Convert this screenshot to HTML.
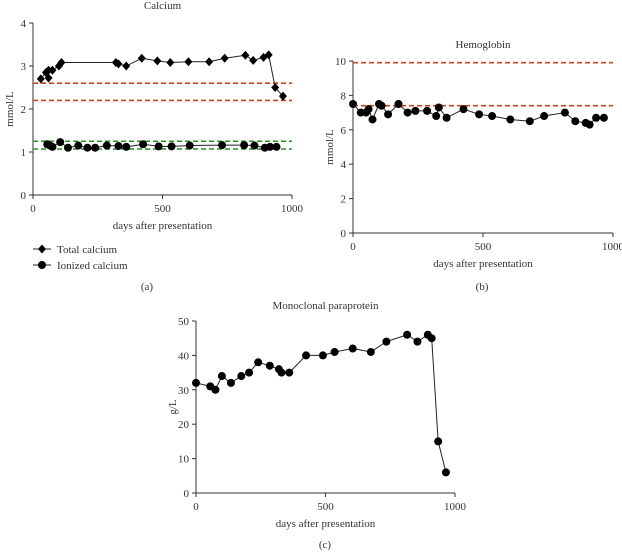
<!DOCTYPE html>
<html><head><meta charset="utf-8"><style>
body{margin:0;background:#fff}
svg text{font-family:"Liberation Serif",serif;fill:#333;font-size:11px}
</style></head><body>
<svg id="s" width="622" height="551"></svg>
<script>
const caDays=[30,50,60,60,75,100,110,320,330,360,420,480,530,600,680,740,820,850,890,910,935,965];
const caTotal=[2.7,2.85,2.72,2.9,2.9,3.0,3.08,3.08,3.05,3.0,3.18,3.12,3.08,3.1,3.1,3.18,3.25,3.13,3.2,3.26,2.5,2.3];
const ionDays=[55,65,75,105,135,175,210,240,285,330,360,425,485,535,605,730,815,855,895,915,940];
const ionVals=[1.18,1.15,1.12,1.23,1.1,1.15,1.1,1.1,1.15,1.14,1.12,1.18,1.13,1.13,1.15,1.16,1.16,1.15,1.1,1.12,1.12];
const caRefRed=[2.6,2.2];const caRefGreen=[1.25,1.07];
const hbDays=[0,30,50,60,75,100,110,135,175,210,240,285,320,330,360,425,485,535,605,680,735,815,855,895,910,935,965];
const hbVals=[7.5,7.0,7.0,7.2,6.6,7.5,7.4,6.9,7.5,7.0,7.1,7.1,6.8,7.3,6.7,7.2,6.9,6.8,6.6,6.5,6.8,7.0,6.5,6.4,6.3,6.7,6.7];
const hbRef=[9.9,7.4];
const mpDays=[0,55,75,100,135,175,205,240,285,320,330,360,425,490,535,605,675,735,815,855,895,910,935,965];
const mpVals=[32,31,30,34,32,34,35,38,37,36,35,35,40,40,41,42,41,44,46,44,46,45,15,6];
const xTicks=[0,500,1000];
const caTicks=[0,1,2,3,4],hbTicks=[0,2,4,6,8,10],mpTicks=[0,10,20,30,40,50];
const S=document.getElementById('s'),NS='http://www.w3.org/2000/svg';
function el(t,a,p){const e=document.createElementNS(NS,t);for(const k in a)e.setAttribute(k,a[k]);(p||S).appendChild(e);return e;}
function txt(x,y,s,o){const e=el('text',Object.assign({x:x,y:y,'text-anchor':'middle'},o||{}));e.textContent=s;return e;}
function chart(name,x0,x1,y0,y1,ymax,yt,title,ty,ylab){
  const g=el('g',{});
  
  
  const X=v=>x0+(x1-x0)*v/1000,Y=v=>y0-(y0-y1)*v/ymax;
  const ax=el('path',{d:`M${x0},${y1}V${y0}H${x1}`,stroke:'#333',fill:'none','stroke-width':1},g);
  
  yt.forEach(v=>{el('line',{x1:x0-4,x2:x0,y1:Y(v),y2:Y(v),stroke:'#333'},g);const t=txt(x0-7,Y(v)+4,v,{'text-anchor':'end'});g.appendChild(t);});
  xTicks.forEach(v=>{el('line',{x1:X(v),x2:X(v),y1:y0,y2:y0+4,stroke:'#333'},g);const t=txt(X(v),y0+17,v);g.appendChild(t);});
  const t1=txt((x0+x1)/2,ty,title);g.appendChild(t1);
  const t2=txt((x0+x1)/2,y0+34,'days after presentation');g.appendChild(t2);
  const t3=txt(0,0,ylab,{transform:`translate(${x0-20},${(y0+y1)/2}) rotate(-90)`});g.appendChild(t3);
  return {g,X,Y,x0,x1};
}
function refs(c,vals,col){vals.forEach(v=>{const l=el('line',{x1:c.x0,x2:c.x1,y1:c.Y(v),y2:c.Y(v),stroke:col,'stroke-width':1.6,'stroke-dasharray':'5,3'},c.g);});}
function series(c,xs,ys,shape,name){
  const p=el('polyline',{points:xs.map((x,i)=>c.X(x)+','+c.Y(ys[i])).join(' '),fill:'none',stroke:'#222','stroke-width':1},c.g);
  
  xs.forEach((x,i)=>{const cx=c.X(x),cy=c.Y(ys[i]);let m;
    if(shape==='d')m=el('path',{d:`M${cx},${cy-4.5}L${cx+4},${cy}L${cx},${cy+4.5}L${cx-4},${cy}Z`,fill:'#000'},c.g);
    else m=el('circle',{cx:cx,cy:cy,r:4,fill:'#000'},c.g);
    });
}
const a=chart('calcium-chart',33,292,195,23,4,caTicks,'Calcium',9,'mmol/L');
refs(a,caRefRed,'#c9461c');refs(a,caRefGreen,'#2e8b2e');
series(a,caDays,caTotal,'d','total-calcium');series(a,ionDays,ionVals,'c','ionized-calcium');
const b=chart('hemoglobin-chart',353,613,233,61,10,hbTicks,'Hemoglobin',48,'mmol/L');
refs(b,hbRef,'#c9461c');series(b,hbDays,hbVals,'c','hemoglobin');
const c=chart('paraprotein-chart',196,455,493,321,50,mpTicks,'Monoclonal paraprotein',309,'g/L');
series(c,mpDays,mpVals,'c','paraprotein');
// legend
const lg=el('g',{});
el('line',{x1:33,x2:51,y1:249,y2:249,stroke:'#222'},lg);el('path',{d:'M42,244.5L46,249L42,253.5L38,249Z',fill:'#000'},lg);
el('line',{x1:33,x2:51,y1:265,y2:265,stroke:'#222'},lg);el('circle',{cx:42,cy:265,r:4,fill:'#000'},lg);
const l1=txt(57,253,'Total calcium',{'text-anchor':'start'});lg.appendChild(l1);
const l2=txt(57,269,'Ionized calcium',{'text-anchor':'start'});lg.appendChild(l2);
[[147,290,'(a)'],[482,290,'(b)'],[325,548,'(c)']].forEach(p=>{const t=txt(p[0],p[1],p[2],{'font-size':10});});
</script>
</body></html>
